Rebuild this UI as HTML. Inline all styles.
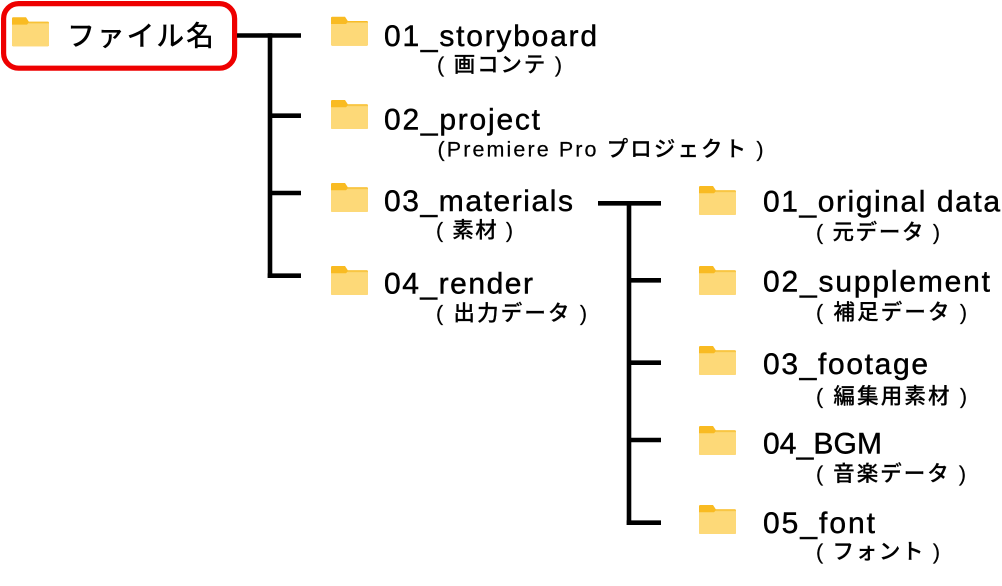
<!DOCTYPE html>
<html>
<head>
<meta charset="utf-8">
<style>
  html, body { margin:0; padding:0; background:#fff; }
  svg { display:block; }
  text { font-family: "Liberation Sans", "Noto Sans CJK JP", sans-serif; fill:#000; }
  .m { font-size:30px; font-weight:500; stroke:#000; stroke-width:0.45px; }
  .h { font-size:28px; font-weight:500; }
  .s { font-size:21.5px; font-weight:500; stroke:#000; stroke-width:0.2px; }
</style>
</head>
<body>
<svg width="1002" height="586" viewBox="0 0 1002 586" xmlns="http://www.w3.org/2000/svg">
  <defs>
    <g id="f">
      <path d="M0,1.2 Q0,0 1.2,0 H14 L16.8,4.3 H35.8 Q37,4.3 37,5.5 V27.8 Q37,29 35.8,29 H1.2 Q0,29 0,27.8 Z" fill="#F9BB22"/>
      <path d="M0,7.3 H15 L16.6,5.6 H37 V27.8 Q37,29 35.8,29 H1.2 Q0,29 0,27.8 Z" fill="#FDD978"/>
      <rect x="16.6" y="5.2" width="20.4" height="1" fill="#F8C94C"/>
    </g>
  </defs>
  <rect width="1002" height="586" fill="#fff"/>

  <!-- header -->
  <rect x="3.6" y="3.6" width="231" height="64.6" rx="15" ry="15" fill="#fff" stroke="#EE0000" stroke-width="5.2"/>
  <use href="#f" x="12" y="17.3"/>
  <text class="h" x="67" y="45.5" textLength="147">ファイル名</text>

  <!-- left tree lines -->
  <g stroke="#000" stroke-width="4.6" fill="none" stroke-linecap="butt">
    <line x1="237" y1="35.5" x2="301" y2="35.5"/>
    <line x1="270" y1="33.2" x2="270" y2="278"/>
    <line x1="270" y1="115.7" x2="301" y2="115.7"/>
    <line x1="270" y1="193" x2="301" y2="193"/>
    <line x1="267.7" y1="275.7" x2="301" y2="275.7"/>
  </g>

  <!-- right tree lines -->
  <g stroke="#000" stroke-width="4.6" fill="none" stroke-linecap="butt">
    <line x1="598" y1="203.3" x2="661" y2="203.3"/>
    <line x1="629" y1="201" x2="629" y2="525"/>
    <line x1="629" y1="280.3" x2="661" y2="280.3"/>
    <line x1="629" y1="362.7" x2="661" y2="362.7"/>
    <line x1="629" y1="440" x2="661" y2="440"/>
    <line x1="626.7" y1="522.7" x2="661" y2="522.7"/>
  </g>

  <!-- left folders -->
  <use href="#f" x="331" y="16.7"/>
  <use href="#f" x="331" y="100"/>
  <use href="#f" x="331" y="183"/>
  <use href="#f" x="331" y="266"/>

  <!-- right folders -->
  <use href="#f" x="699" y="186"/>
  <use href="#f" x="699" y="266"/>
  <use href="#f" x="699" y="346"/>
  <use href="#f" x="699" y="426"/>
  <use href="#f" x="699" y="505"/>

  <!-- left labels -->
  <text class="m" x="384" y="46" textLength="213">01_storyboard</text>
  <text class="s" x="437" y="72" textLength="125">( 画コンテ )</text>

  <text class="m" x="384" y="129.5" textLength="156">02_project</text>
  <text class="s" x="437.5" y="156.5" textLength="326">(Premiere Pro プロジェクト )</text>

  <text class="m" x="384" y="211" textLength="189">03_materials</text>
  <text class="s" x="436" y="237.5" textLength="77">( 素材 )</text>

  <text class="m" x="384" y="293.5" textLength="149">04_render</text>
  <text class="s" x="436" y="320.5" textLength="151">( 出力データ )</text>

  <!-- right labels -->
  <text class="m" x="763" y="211.5" textLength="237">01_original data</text>
  <text class="s" x="816" y="239.5" textLength="124">( 元データ )</text>

  <text class="m" x="763" y="291.5" textLength="227">02_supplement</text>
  <text class="s" x="816" y="319.5" textLength="151">( 補足データ )</text>

  <text class="m" x="763" y="374" textLength="165">03_footage</text>
  <text class="s" x="816" y="403.5" textLength="151">( 編集用素材 )</text>

  <text class="m" x="763" y="453.5" textLength="119">04_BGM</text>
  <text class="s" x="816" y="481" textLength="150">( 音楽データ )</text>

  <text class="m" x="763" y="533" textLength="112">05_font</text>
  <text class="s" x="816" y="559" textLength="124">( フォント )</text>
</svg>
</body>
</html>
